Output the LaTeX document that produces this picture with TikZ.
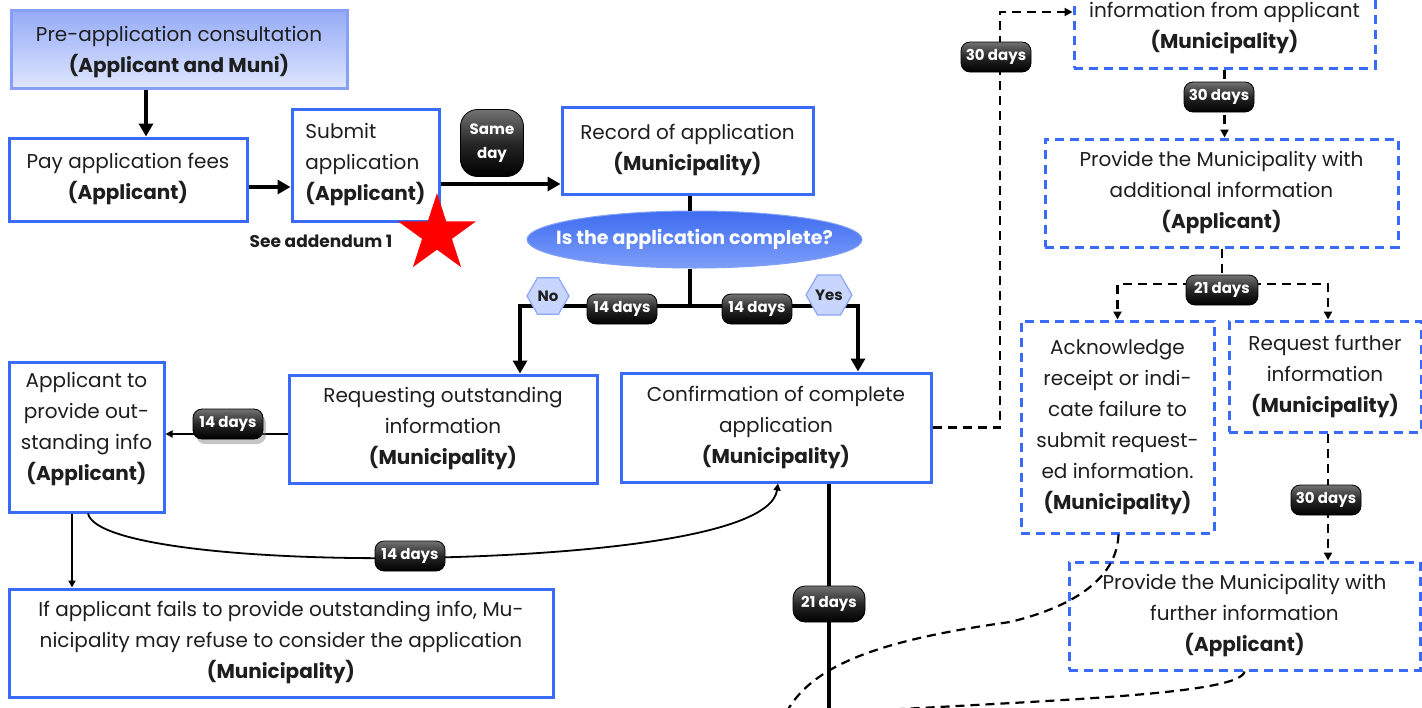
\documentclass[tikz,border=0pt]{standalone}
\usepackage{fontspec}
\setmainfont{Poppins}
\usetikzlibrary{arrows.meta,shapes.geometric,shadows,calc}
\definecolor{bblue}{RGB}{58,106,248}
\definecolor{txt}{RGB}{30,30,30}
\definecolor{hexfill}{RGB}{200,213,252}
\definecolor{hexline}{RGB}{140,165,245}
\begin{document}
\begin{tikzpicture}[x=1pt,y=-1pt,
  box/.style={draw=bblue, line width=3pt, fill=white, align=center, inner sep=0pt,
    font=\fontsize{20}{31}\selectfont, text=txt},
  dbox/.style={box, dash pattern=on 9pt off 6pt},
  badge/.style={draw=black, line width=0.8pt, rounded corners=9pt, top color=black!55,
    bottom color=black, middle color=black!85, text=white, inner sep=0pt,
    font=\bfseries\fontsize{15}{24}\selectfont, minimum width=70pt, minimum height=30pt, align=center},
  hexa/.style={regular polygon, regular polygon sides=6, inner sep=0pt, fill=hexfill,
    draw=hexline, line width=1.2pt, text=txt, font=\bfseries\fontsize{15}{15}\selectfont},
  bigarrow/.style={line width=4pt, -{Triangle[length=13pt,width=14pt]}},
  bigline/.style={line width=4pt},
  thinarrow/.style={line width=1.8pt, -{Triangle[length=7pt,width=7pt]}},
  dconn/.style={line width=2.2pt, dash pattern=on 9pt off 6pt},
  darrow/.style={dconn, -{Triangle[length=8pt,width=8pt]}}
]
\useasboundingbox (0,0) rectangle (1422,707);
\clip (0,0) rectangle (1422,707);
\fill[white] (0,0) rectangle (1422,707);

% ---------- left column ----------
\node[box, draw={rgb,255:red,135;green,160;blue,245}, top color={rgb,255:red,148;green,170;blue,246},
  bottom color={rgb,255:red,222;green,230;blue,255}, minimum width=336pt, minimum height=78pt,
  text depth=0pt] (pre) at (179,49)
  {Pre-application consultation\\\textbf{(Applicant and Muni)}};
\node[box, minimum width=238pt, minimum height=83pt] (pay) at (128,179.5)
  {Pay application fees\\\textbf{(Applicant)}};
\node[box, minimum width=147pt, minimum height=112pt, align=left] (submit) at (365.5,165)
  {Submit\\application\\\textbf{(Applicant)}};
\node[text=txt, font=\bfseries\fontsize{17}{17}\selectfont] (addend) at (321,241) {See addendum 1};
\node[star, star points=5, star point ratio=2.618, minimum size=82pt, inner sep=0pt, fill=red] (star) at (437,234) {};

\node[box, minimum width=251pt, minimum height=87pt] (record) at (687.5,150.5)
  {Record of application\\\textbf{(Municipality)}};
\node[ellipse, minimum width=335pt, minimum height=57pt, inner sep=0pt,
  top color={rgb,255:red,62;green,108;blue,240}, bottom color={rgb,255:red,125;green,158;blue,248},
  draw={rgb,255:red,130;green,160;blue,248}, line width=1pt] (dec) at (694.5,239.5) {};
\node[text=white, font=\bfseries\fontsize{19}{19}\selectfont] (dectext) at (dec.center) {Is the application complete?};

\node[box, minimum width=308pt, minimum height=108pt] (req) at (443,429)
  {Requesting outstanding\\information\\\textbf{(Municipality)}};
\node[box, minimum width=310pt, minimum height=109pt] (conf) at (776,427.5)
  {Confirmation of complete\\application\\\textbf{(Municipality)}};
\node[box, minimum width=155pt, minimum height=150pt] (appl) at (86.5,437) {};
\node[align=center, text=txt, font=\fontsize{20}{31}\selectfont] (appltext) at (86.5,429)
  {Applicant to\\provide out-\\standing info\\\textbf{(Applicant)}};
\node[box, minimum width=544pt, minimum height=108pt] (ifbox) at (281,643)
  {If applicant fails to provide outstanding info, Mu-\\nicipality may refuse to consider the application\\\textbf{(Municipality)}};

% ---------- right column ----------
\node[dbox, minimum width=301pt, minimum height=120pt] (tr) at (1224.5,8) {};
\node[align=center, text=txt, font=\fontsize{20}{31}\selectfont] (trtext) at (1224.5,28)
  {information from applicant\\\textbf{(Municipality)}};
\node[dbox, minimum width=353pt, minimum height=108pt] (provadd) at (1221.5,193)
  {Provide the Municipality with\\additional information\\\textbf{(Applicant)}};
\node[dbox, minimum width=193pt, minimum height=212pt] (ack) at (1117.5,427)
  {Acknowledge\\receipt or indi-\\cate failure to\\submit request-\\ed information.\\\textbf{(Municipality)}};
\node[dbox, minimum width=192pt, minimum height=111pt] (reqfur) at (1325,376.5)
  {Request further\\information\\\textbf{(Municipality)}};
\node[dbox, minimum width=351pt, minimum height=108pt] (provfur) at (1244.5,616)
  {Provide the Municipality with\\further information\\\textbf{(Applicant)}};

% ---------- connectors ----------
\draw[bigarrow] ([xshift=-33pt]pre.south) -- ([xshift=-33pt]pre.south |- pay.north);
\draw[bigarrow] ([yshift=-7.5pt]pay.east) -- ([yshift=-7.5pt]pay.east -| submit.west);
\draw[bigarrow] ([yshift=-19pt]submit.east) -- ([yshift=-19pt]submit.east -| record.west);
\draw[line width=4pt] ([xshift=2.5pt]record.south) -- ([xshift=2.5pt]record.south |- dec.north);
\coordinate (j) at (690,306);
\draw[bigline] ([xshift=-4.5pt]dec.south) -- (j);
\draw[bigarrow] (j) -| ([xshift=77pt]req.north);
\draw[bigarrow] (j) -| ([xshift=82pt]conf.north);
\draw[thinarrow] ([yshift=-5pt]req.west) -- ([yshift=-5pt]req.west -| appl.east);
\draw[thinarrow] ([xshift=-14.5pt]appl.south) -- ([xshift=-14.5pt]appl.south |- ifbox.north);
\coordinate (cm) at (411,558);
\draw[line width=1.8pt, -{Triangle[length=7pt,width=7pt]}] ([xshift=1.5pt]appl.south)
  .. controls (95,545) and (250,560) .. (cm)
  .. controls (560,556) and (770,540) .. ([xshift=2pt]conf.south);
\coordinate (cbot) at (829,712);
\draw[bigline] ([xshift=53pt]conf.south) -- (cbot);

\coordinate (c1) at (1000,12);
\draw[darrow] (conf.east) -| (c1) -- (c1 -| tr.west);
\draw[darrow] (tr.south) -- (tr.south |- provadd.north);
\coordinate (k) at (1222,284);
\draw[dconn] ([xshift=0.5pt]provadd.south) -- (k);
\draw[darrow] (k) -| (ack.north);
\draw[darrow] (k) -| ([xshift=3pt]reqfur.north);
\draw[darrow] ([xshift=3pt]reqfur.south) -- ([xshift=3pt]reqfur.south |- provfur.north);
\coordinate (ackmid) at (1010,622);
\coordinate (ackend) at (785,715);
\draw[dconn] ([xshift=1pt]ack.south) .. controls (1117,575) and (1080,605) .. (ackmid)
  .. controls (880,640) and (810,665) .. (ackend);
\coordinate (pfend) at (850,712);
\draw[dconn] (provfur.south) .. controls (1240,695) and (1050,700) .. (pfend);

% ---------- badges ----------
\node[badge, minimum width=63pt, minimum height=67pt, rounded corners=17pt] (sameday) at (492,143) {Same\\day};
\node[badge] (b14a) at (622,309) {14 days};
\node[badge] (b14b) at (757,309) {14 days};
\node[hexa, minimum size=42pt] (no) at (548,296) {No};
\node[hexa, minimum size=46pt] (yes) at (829,295) {Yes};
\node[badge, drop shadow={opacity=0.45, shadow xshift=3pt, shadow yshift=-5pt}] (b14c) at (228,424) {14 days};
\node[badge] (b14d) at (410,556) {14 days};
\node[badge, minimum width=72pt, minimum height=36pt, rounded corners=12pt] (b21a) at (829,604) {21 days};
\node[badge] (b30a) at (996,57) {30 days};
\node[badge] (b30b) at (1219,97) {30 days};
\node[badge, minimum width=72pt] (b21b) at (1222,290) {21 days};
\node[badge] (b30c) at (1326,500) {30 days};
\end{tikzpicture}
\end{document}
